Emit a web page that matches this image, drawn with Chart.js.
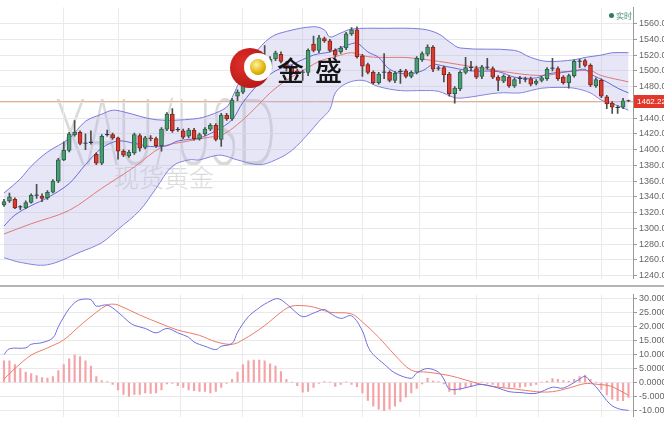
<!DOCTYPE html>
<html>
<head>
<meta charset="utf-8">
<script src="https://cdn.jsdelivr.net/npm/chart.js@4.4.0/dist/chart.umd.min.js"></script>
<style>
html, body { margin: 0; padding: 0; background: #fff; }
#wrap { position: relative; width: 664px; height: 424px; overflow: hidden; font-family: "Liberation Sans", Arial, sans-serif; }
#topChart { position: absolute; left: 0; top: 0; z-index: 1; }
#botChart { position: absolute; left: 0; top: 287px; z-index: 1; }
.sep { position: absolute; left: 0; top: 285px; width: 664px; height: 2px; background: #b4b4b4; z-index: 2; }
.wm { position: absolute; color: #dadada; z-index: 0; white-space: nowrap; }
.wm1 { left: 55px; top: 84px; font: 300 92px Lato, sans-serif; line-height: 92px; transform: scaleX(0.54); transform-origin: 0 0; }
.wm2 { left: 114px; top: 161px; font: 300 25px "Noto Sans CJK SC", sans-serif; line-height: 30px; }
.logo { position: absolute; left: 230px; top: 48px; width: 40px; height: 40px; border-radius: 50%; background: radial-gradient(circle at 35% 40%, #e0302a, #a80f10); z-index: 3; }
.logo .ring { position: absolute; left: 14px; top: 5px; width: 28px; height: 28px; border-radius: 50%; background: #fff; }
.logo .ball { position: absolute; left: 20px; top: 11px; width: 16px; height: 16px; border-radius: 50%; background: radial-gradient(circle at 40% 35%, #fff2a0, #e0b000 60%, #a07800); }
.brand { position: absolute; left: 277px; top: 50px; font: 500 27px "Noto Sans CJK SC", sans-serif; letter-spacing: 11px; color: #151515; z-index: 3; }
.live { position: absolute; left: 609px; top: 10px; font: 8px "Noto Sans CJK SC", sans-serif; color: #3f8f6a; z-index: 3; }
.live i { display: inline-block; width: 5px; height: 5px; border-radius: 50%; background: #2e7d5a; margin-right: 2px; vertical-align: 1px; }
</style>
</head>
<body>
<div id="wrap">
  <div class="wm wm1">XAU/USD</div>
  <div class="wm wm2">现货黄金</div>
  <canvas id="topChart" width="664" height="286"></canvas>
  <div class="sep"></div>
  <canvas id="botChart" width="664" height="137"></canvas>
  <div class="logo"><div class="ring"></div><div class="ball"></div></div>
  <div class="brand">金盛</div>
  <div class="live"><i></i>实时</div>
</div>
<script>
// candle positions where the vertical grid lines fall
const gridIdx = [5, 17, 25, 40, 48, 62, 70, 83, 91, 106, 114];
const priceTicks = [1240, 1260, 1280, 1300, 1320, 1340, 1360, 1380, 1400, 1420, 1440, 1460, 1480, 1500, 1520, 1540, 1560];
const macdTicks = [30, 25, 20, 15, 10, 5, 0, -5, -10];

// candles
const open = [1330, 1335, 1337, 1327, 1326, 1333, 1342, 1341, 1339, 1346,
  1360, 1387, 1399, 1419, 1422, 1408, 1409, 1394, 1383, 1419,
  1419, 1415, 1398, 1392, 1396, 1418, 1403, 1415, 1414, 1405,
  1426, 1445, 1425, 1424, 1417, 1425, 1414, 1420, 1426, 1431,
  1413, 1444, 1439, 1468, 1473, 1484, 1496, 1496, 1509, 1502,
  1515, 1521, 1510, 1505, 1500, 1498, 1498, 1534, 1526, 1541,
  1538, 1526, 1524, 1529, 1547, 1552, 1519, 1508, 1498, 1485,
  1498, 1498, 1488, 1499, 1500, 1493, 1498, 1514, 1521, 1530,
  1503, 1504, 1496, 1471, 1477, 1498, 1504, 1503, 1493, 1505,
  1503, 1492, 1487, 1492, 1481, 1490, 1490, 1490, 1484, 1488,
  1490, 1503, 1503, 1492, 1485, 1494, 1512, 1513, 1507, 1481,
  1488, 1467, 1459, 1454, 1454, 1462];
const high = [1337, 1345, 1339, 1329, 1335, 1344, 1356, 1344, 1348, 1362,
  1389, 1410, 1422, 1437, 1424, 1420, 1424, 1396, 1419, 1425,
  1421, 1416, 1400, 1399, 1421, 1420, 1417, 1418, 1416, 1428,
  1447, 1452, 1428, 1426, 1427, 1427, 1421, 1428, 1433, 1433,
  1446, 1446, 1465, 1476, 1486, 1499, 1515, 1520, 1532, 1518,
  1525, 1524, 1512, 1507, 1502, 1501, 1528, 1544, 1545, 1543,
  1540, 1528, 1531, 1549, 1555, 1556, 1521, 1510, 1500, 1498,
  1522, 1500, 1499, 1502, 1502, 1500, 1518, 1524, 1533, 1532,
  1506, 1506, 1498, 1480, 1500, 1517, 1512, 1506, 1507, 1516,
  1505, 1494, 1495, 1494, 1491, 1493, 1492, 1492, 1489, 1493,
  1504, 1516, 1505, 1494, 1496, 1514, 1515, 1515, 1509, 1491,
  1490, 1469, 1461, 1456, 1465, 1463];
const low = [1328, 1333, 1325, 1324, 1325, 1332, 1338, 1334, 1337, 1345,
  1358, 1386, 1397, 1417, 1406, 1400, 1407, 1381, 1381, 1417,
  1413, 1388, 1391, 1390, 1394, 1398, 1401, 1411, 1403, 1398,
  1424, 1422, 1423, 1414, 1415, 1412, 1412, 1418, 1424, 1411,
  1404, 1437, 1437, 1462, 1471, 1482, 1494, 1494, 1499, 1500,
  1513, 1510, 1500, 1495, 1494, 1488, 1494, 1524, 1523, 1536,
  1524, 1517, 1522, 1527, 1545, 1516, 1493, 1496, 1483, 1483,
  1490, 1486, 1485, 1484, 1491, 1491, 1496, 1512, 1519, 1499,
  1501, 1486, 1468, 1459, 1475, 1496, 1500, 1490, 1490, 1502,
  1490, 1475, 1485, 1479, 1479, 1484, 1486, 1481, 1482, 1486,
  1488, 1500, 1488, 1483, 1478, 1492, 1504, 1505, 1480, 1479,
  1466, 1452, 1446, 1446, 1452, 1461];
const close = [1334, 1340, 1326, 1327.8, 1333, 1342, 1342.8, 1338, 1346, 1360,
  1387, 1399, 1420, 1422, 1408, 1408.8, 1409.8, 1383, 1417, 1419.8,
  1415, 1398, 1393, 1397, 1419, 1402, 1415, 1414, 1405, 1426,
  1445, 1424, 1425.8, 1416, 1425, 1414, 1419, 1426, 1431, 1413,
  1444, 1439, 1463, 1473, 1484, 1496, 1503, 1509, 1501, 1515,
  1523, 1512, 1504, 1498, 1496, 1498.8, 1526, 1526, 1542, 1538,
  1526, 1520, 1529, 1547, 1552, 1518, 1506, 1498, 1485, 1496,
  1498.8, 1488, 1497, 1499.8, 1493, 1498, 1516, 1522, 1530, 1502,
  1503.8, 1495, 1471, 1478, 1498, 1504, 1504.8, 1492, 1505, 1504.2,
  1492, 1488, 1493, 1481, 1489, 1490.8, 1489.2, 1483, 1487, 1491,
  1502, 1503.8, 1490, 1485, 1494, 1512, 1512.8, 1507, 1482, 1489,
  1468, 1458, 1454, 1453.2, 1462, 1462.22];

// Bollinger band and moving averages, [candle index, price]
const bollUp = [[0, 1345], [3, 1363], [5, 1379], [8, 1397], [12, 1414], [15, 1436], [18, 1445], [20, 1450],
  [22, 1448], [28, 1438], [35, 1439], [38, 1444], [41, 1454], [42, 1466], [44, 1496], [46, 1520],
  [49, 1542], [52, 1550], [57, 1556], [59, 1552], [60, 1543], [62, 1548], [64, 1553], [70, 1554],
  [77, 1553], [80, 1547], [82, 1537], [84, 1529], [94, 1526], [97, 1517], [100, 1512], [105, 1514],
  [107, 1517], [110, 1520], [112, 1523], [115, 1523]];
const bollLow = [[0, 1263], [3, 1257], [8, 1254], [14, 1270], [18, 1282], [21, 1299], [25, 1323], [28, 1351],
  [31, 1379], [34, 1387], [36, 1387], [38, 1391], [40, 1393], [43, 1387], [47, 1381], [50, 1387],
  [53, 1399], [56, 1420], [58, 1436], [60, 1451], [61, 1472], [63, 1484], [66, 1488], [69, 1480],
  [73, 1475], [77, 1475], [80, 1474], [83, 1466], [85, 1466], [91, 1472], [95, 1472], [97, 1475],
  [99, 1478], [102, 1479], [105, 1478], [108, 1472], [110, 1463], [113, 1456], [115, 1450]];
const bollMid = [[0, 1293], [5, 1306], [12, 1323], [18, 1351], [24, 1378], [29, 1403], [34, 1411], [38, 1416],
  [40, 1418], [43, 1432], [46, 1451], [49, 1472], [52, 1488], [56, 1504], [58, 1512], [61, 1518],
  [64, 1523], [67, 1518], [71, 1517], [74, 1517], [78, 1514], [82, 1510], [91, 1500], [99, 1494],
  [104, 1499], [108, 1500], [110, 1494], [115, 1486]];
const maFast = [[0, 1303], [2, 1317], [5, 1329], [8, 1339], [12, 1357], [15, 1381], [18, 1402], [21, 1411],
  [24, 1408], [27, 1404], [30, 1405], [32, 1411], [36, 1415], [39, 1424], [42, 1438], [44, 1460],
  [47, 1484], [50, 1500], [53, 1508], [57, 1520], [60, 1524], [63, 1532], [65, 1535], [67, 1524],
  [69, 1517], [71, 1502], [74, 1496], [77, 1500], [79, 1508], [81, 1506], [86, 1500], [91, 1499],
  [94, 1492], [98, 1491], [100, 1496], [105, 1500], [107, 1502], [108, 1496], [111, 1486],
  [113, 1478], [115, 1472]];

// MACD panel
const dif = [[0, 10], [1, 12.1], [4, 12.4], [5, 13.7], [7, 14.3], [9, 16], [10, 20], [11, 23.5], [12, 26.5],
  [13, 28.6], [14, 29.7], [16, 29.7], [17, 27.4], [19, 27.8], [21, 25.2], [23, 21.7], [24, 20.5],
  [26, 19.4], [28, 17.8], [30, 19.4], [32, 17.8], [34, 16.2], [35, 14.5], [37, 13], [39, 11.8],
  [40, 13], [42, 14], [43, 18], [45, 23.6], [47, 26.8], [48, 28.1], [50, 30], [51, 29.7], [53, 26.5],
  [55, 23.6], [57, 24.9], [59, 26.2], [60, 24.9], [62, 23], [64, 23.9], [66, 18.5], [67, 13], [68, 10],
  [70, 6.6], [72, 3.4], [75, 1.5], [76, 3.4], [78, 5.0], [80, 3.7], [81, 1.2], [82, -2.3], [84, -2.3],
  [86, -1.4], [88, -0.7], [91, -2], [93, -3.3], [95, -3.6], [98, -3.9], [101, -1.7], [103, -2],
  [106, 1.2], [107, 2.2], [108, 0.3], [109, -1.5], [110, -4], [111, -6.5], [112, -8.4], [113, -9.3],
  [114, -9.8], [115, -10]];
const dea = [[0, 1.2], [2, 5], [5, 9.8], [8, 12.4], [11, 15.3], [14, 20.4], [17, 25.2], [19, 27.8], [20, 28.1],
  [21, 27.8], [25, 24.2], [29, 21], [32, 18.8], [36, 16.9], [39, 14.6], [42, 13.7], [44, 15.3], [48, 20.4],
  [51, 25.2], [53, 27.4], [56, 27.4], [58, 26.5], [60, 25.2], [64, 24.6], [66, 21.7], [69, 16.2],
  [72, 9.8], [75, 4.4], [78, 3.7], [82, 2.5], [85, 0.9], [88, -0.7], [91, -1.7], [94, -2.3], [98, -3.3],
  [101, -3.3], [104, -2], [107, -0.4], [109, -0.6], [111, -1], [112, -1.5], [113, -2.5], [114, -3.5],
  [115, -4.6]];
const macdHist = [7.8, 7.8, 6.4, 5.0, 3.7, 3.2, 2.5, 1.8, 1.6, 2.1,
  4.3, 6.4, 8.5, 9.8, 9.3, 7.8, 5.9, 2.1, 0.7, 0.3,
  -0.7, -2.7, -4.3, -5.0, -4.3, -4.3, -3.7, -3.9, -3.7, -2.7,
  -0.5, -0.3, -1.1, -1.8, -2.7, -2.9, -3.2, -3.2, -3.7, -3.2,
  -1.8, -0.3, 1.1, 3.7, 6.4, 7.8, 8.0, 8.0, 7.8, 6.7,
  5.9, 3.9, 1.1, 0.1, -1.1, -3.5, -3.2, -1.8, -0.3, 0.3,
  0.1, -1.4, -0.7, 0.2, -0.7, -1.5, -3.7, -6.4, -8.5, -9.6,
  -10.1, -9.6, -8.5, -6.9, -5.3, -3.7, -2.1, -0.5, 1.6, 0.5,
  0.3, -0.5, -3.2, -4.3, -2.7, -1.8, -1.4, -0.7, 0.1, -0.3,
  -0.7, -1.4, -1.6, -1.8, -1.8, -1.8, -1.4, -1.1, -0.7, 0.1,
  0.5, 1.4, 1.1, 0.7, 0.5, 1.1, 2.1, 2.7, 1.1, 0.1,
  -2.5, -4.5, -6, -6.5, -6.5, -5.4];

function pts(arr) {
  return arr.map(p => ({ x: p[0], y: p[1] }));
}

const lastPrice = close[close.length - 1];
const xMin = -0.74, xMax = 115.83;

// colour of each candle body
const upFill = '#4a9d72', upLine = '#2c6447';
const dnFill = '#d83c2e', dnLine = '#8c2218';
const dojiCol = '#2c3550';
function bodyColor(i, up, dn) {
  const d = close[i] - open[i];
  if (Math.abs(d) < 1) return dojiCol;
  return d > 0 ? up : dn;
}

// x axis that only draws the vertical grid lines
function gridX() {
  return {
    type: 'linear', min: xMin, max: xMax, offset: false,
    afterBuildTicks: s => { s.ticks = gridIdx.map(v => ({ value: v })); },
    afterFit: s => { s.height = 0; },
    ticks: { display: false },
    grid: { color: '#ebebeb', drawTicks: false },
    border: { display: false }
  };
}

// horizontal line at the current price and the red price tag on the axis
const priceTag = {
  id: 'priceTag',
  beforeDatasetsDraw(chart) {
    const y = Math.round(chart.scales.y.getPixelForValue(lastPrice)) + 0.5;
    const a = chart.chartArea;
    const ctx = chart.ctx;
    ctx.save();
    ctx.strokeStyle = '#e8ad92';
    ctx.lineWidth = 1;
    ctx.beginPath();
    ctx.moveTo(a.left, y);
    ctx.lineTo(a.right, y);
    ctx.stroke();
    ctx.restore();
  },
  afterDraw(chart) {
    const y = chart.scales.y.getPixelForValue(lastPrice);
    const a = chart.chartArea;
    const ctx = chart.ctx;
    ctx.save();
    ctx.fillStyle = '#e0392c';
    ctx.fillRect(a.right + 1, Math.round(y) - 6, chart.width - a.right - 1, 13);
    ctx.fillStyle = '#fff';
    ctx.font = '8px "Liberation Sans", Arial, sans-serif';
    ctx.textBaseline = 'middle';
    ctx.fillText(lastPrice.toFixed(2), a.right + 4, Math.round(y) + 0.5);
    ctx.restore();
  }
};

const tickFont = { family: '"Liberation Sans", Arial, sans-serif', size: 9 };

new Chart(document.getElementById('topChart'), {
  type: 'bar',
  data: {
    datasets: [
      {
        type: 'line', data: pts(bollUp), order: 6,
        borderColor: '#7a7ade', borderWidth: 1, pointRadius: 0, tension: 0.35,
        fill: 1, backgroundColor: 'rgba(178,178,232,0.33)'
      },
      {
        type: 'line', data: pts(bollLow), order: 6,
        borderColor: '#7a7ade', borderWidth: 1, pointRadius: 0, tension: 0.35, fill: false
      },
      {
        type: 'line', data: pts(bollMid), order: 5,
        borderColor: '#e27878', borderWidth: 1, pointRadius: 0, tension: 0.35, fill: false
      },
      {
        type: 'line', data: pts(maFast), order: 4,
        borderColor: '#6767d8', borderWidth: 1, pointRadius: 0, tension: 0.35, fill: false
      },
      {
        // wicks
        type: 'bar', order: 2, grouped: false,
        data: close.map((c, i) => ({ x: i, y: [low[i], high[i]] })),
        backgroundColor: '#4d4d4d', barThickness: 1, borderWidth: 0
      },
      {
        // bodies
        type: 'bar', order: 1, grouped: false,
        data: close.map((c, i) => ({ x: i, y: [open[i], c] })),
        backgroundColor: close.map((c, i) => bodyColor(i, upFill, dnFill)),
        borderColor: close.map((c, i) => bodyColor(i, upLine, dnLine)),
        borderWidth: 1, borderSkipped: false, barThickness: 4
      }
    ]
  },
  options: {
    responsive: false,
    animation: false,
    devicePixelRatio: 1,
    layout: { padding: 0 },
    plugins: { legend: { display: false }, tooltip: { enabled: false } },
    scales: {
      x: gridX(),
      y: {
        position: 'right', min: 1236.4, max: 1580.5,
        afterBuildTicks: s => { s.ticks = priceTicks.map(v => ({ value: v })); },
        afterFit: s => { s.width = 31; },
        ticks: { color: '#666', font: tickFont, padding: 2, callback: v => v.toFixed(1) },
        grid: { color: '#e9e9e9', tickColor: '#999', tickLength: 4 },
        border: { color: '#9a9a9a' }
      }
    }
  },
  plugins: [priceTag]
});

new Chart(document.getElementById('botChart'), {
  type: 'bar',
  data: {
    datasets: [
      {
        type: 'line', data: pts(dif), order: 1,
        borderColor: '#6f6fe0', borderWidth: 1, pointRadius: 0, tension: 0.35, fill: false
      },
      {
        type: 'line', data: pts(dea), order: 2,
        borderColor: '#ec7a6c', borderWidth: 1, pointRadius: 0, tension: 0.35, fill: false
      },
      {
        type: 'bar', order: 3, grouped: false,
        data: macdHist.map((v, i) => ({ x: i, y: v })),
        backgroundColor: '#f4a4a8', barThickness: 1.5, borderWidth: 0
      }
    ]
  },
  options: {
    responsive: false,
    animation: false,
    devicePixelRatio: 1,
    layout: { padding: 0 },
    plugins: { legend: { display: false }, tooltip: { enabled: false } },
    scales: {
      x: gridX(),
      y: {
        position: 'right', min: -12.24, max: 31.6,
        afterBuildTicks: s => { s.ticks = macdTicks.map(v => ({ value: v })); },
        afterFit: s => { s.width = 31; },
        ticks: { color: '#666', font: tickFont, padding: 2, callback: v => v.toPrecision(5) },
        grid: { color: '#e9e9e9', tickColor: '#999', tickLength: 4 },
        border: { color: '#9a9a9a' }
      }
    }
  }
});
</script>
</body>
</html>
